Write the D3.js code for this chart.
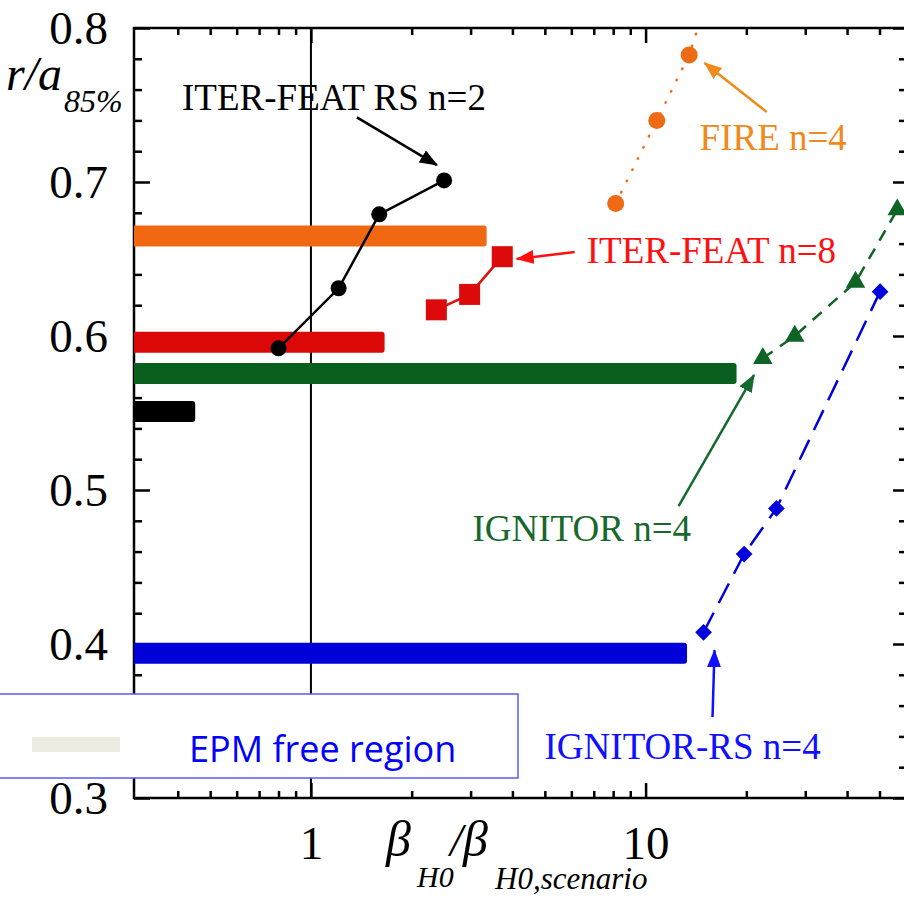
<html>
<head>
    <script src="https://d3js.org/d3.v7.min.js"></script>
    <style>
        body {
            margin: 0;
            background: #fff;
        }

        .serif {
            font-family: "Liberation Serif", "Times New Roman", serif;
        }

        .axis text {
            font-family: "Liberation Serif", "Times New Roman", serif;
            font-size: 47px;
            fill: #000;
        }

        .axis line {
            stroke: #000;
            stroke-width: 2.5;
        }

        .axis .domain {
            stroke: none;
        }
    </style>
</head>

<body>
    <svg width="904" height="900"></svg>
    <script>
        // horizontal bands (level, right end)
        const bandNames = ["FIRE", "ITER-FEAT", "IGNITOR", "ITER-FEAT RS", "IGNITOR-RS"];
        const bandLevel = [0.665, 0.596, 0.5756, 0.551, 0.394];
        const bandEnd = [3.35, 1.66, 18.7, 0.451, 13.3];

        // scenario curves
        const iterRsX = [0.80, 1.21, 1.60, 2.50];
        const iterRsY = [0.592, 0.631, 0.679, 0.701];
        const iterX = [2.37, 2.98, 3.73];
        const iterY = [0.617, 0.627, 0.6515];
        const fireX = [8.14, 10.8, 13.5, 16.4];
        const fireY = [0.686, 0.740, 0.7825, 0.84];
        const ignX = [22.4, 27.9, 42.4, 56.5];
        const ignY = [0.5855, 0.600, 0.635, 0.682];
        const ignRsX = [14.9, 19.7, 24.6, 50.2];
        const ignRsY = [0.4076, 0.4584, 0.488, 0.6288];

        // annotation texts with text anchor and arrow (data units)
        const noteText = ["ITER-FEAT RS n=2", "FIRE n=4", "ITER-FEAT n=8", "IGNITOR n=4", "IGNITOR-RS n=4"];
        const noteX = [0.412, 14.5, 6.67, 3.04, 4.99];
        const noteY = [0.7468, 0.7208, 0.6474, 0.4669, 0.3253];
        const arrowFrom = [[1.372, 0.742], [23.0, 0.7455], [6.14, 0.6545], [12.55, 0.4896], [15.85, 0.3526]];
        const arrowTo = [[2.38, 0.711], [15.0, 0.7773], [4.12, 0.650], [21.1, 0.5747], [16.07, 0.396]];

        // ticks
        const xMajorTicks = [1, 10];
        const xMinorTicks = [0.4, 0.5, 0.6, 0.7, 0.8, 0.9, 2, 3, 4, 5, 6, 7, 8, 9, 20, 30, 40, 50];
        const yMajorTicks = [0.3, 0.4, 0.5, 0.6, 0.7, 0.8];
        const yMinorTicks = d3.range(0.32, 0.8, 0.02).filter(v => Math.abs(v * 10 - Math.round(v * 10)) > 0.01);

        const pLeft = 134, pRight = 906, pTop = 28, pBottom = 798;

        const svg = d3.select("svg");

        const x = d3.scaleLog().domain([0.296, 60]).range([pLeft, pRight]);
        const y = d3.scaleLinear().domain([0.3, 0.8]).range([pBottom, pTop]);

        const defs = svg.append("defs");
        defs.append("clipPath").attr("id", "plot")
            .append("rect")
            .attr("x", pLeft).attr("y", pTop)
            .attr("width", pRight - pLeft).attr("height", pBottom - pTop);

        const noteColors = ["#000000", "#f08a1c", "#ff1010", "#17682c", "#1010ff"];
        noteColors.forEach((c, i) => {
            defs.append("marker")
                .attr("id", "arrow" + i)
                .attr("markerUnits", "userSpaceOnUse")
                .attr("markerWidth", 18).attr("markerHeight", 14)
                .attr("refX", 17).attr("refY", 7)
                .attr("orient", "auto")
                .append("path")
                .attr("d", "M0,0 L18,7 L0,14 z")
                .attr("fill", c);
        });

        // axes (ticks pointing inward on all four sides)
        const minorLen = 7, majorLen = 15;
        svg.append("g").attr("class", "axis")
            .attr("transform", `translate(0,${pBottom})`)
            .call(d3.axisBottom(x).tickValues(xMinorTicks).tickSize(-minorLen).tickFormat(""));
        svg.append("g").attr("class", "axis")
            .attr("transform", `translate(0,${pBottom})`)
            .call(d3.axisBottom(x).tickValues(xMajorTicks).tickSize(-majorLen).tickPadding(28).tickFormat(d3.format("d")));
        svg.append("g").attr("class", "axis")
            .attr("transform", `translate(0,${pTop})`)
            .call(d3.axisTop(x).tickValues(xMinorTicks).tickSize(-minorLen).tickFormat(""));
        svg.append("g").attr("class", "axis")
            .attr("transform", `translate(0,${pTop})`)
            .call(d3.axisTop(x).tickValues(xMajorTicks).tickSize(-majorLen).tickFormat(""));

        svg.append("g").attr("class", "axis")
            .attr("transform", `translate(${pLeft},0)`)
            .call(d3.axisLeft(y).tickValues(yMinorTicks).tickSize(-8).tickFormat(""));
        svg.append("g").attr("class", "axis")
            .attr("transform", `translate(${pLeft},0)`)
            .call(d3.axisLeft(y).tickValues(yMajorTicks).tickSize(-16).tickPadding(26).tickFormat(d3.format(".1f")))
            .selectAll("text").attr("dy", "0.34em");
        svg.append("g").attr("class", "axis")
            .attr("transform", `translate(${pRight},0)`)
            .call(d3.axisRight(y).tickValues(yMinorTicks).tickSize(-minorLen).tickFormat(""));
        svg.append("g").attr("class", "axis")
            .attr("transform", `translate(${pRight},0)`)
            .call(d3.axisRight(y).tickValues(yMajorTicks).tickSize(-13).tickFormat(""));

        // frame
        svg.append("rect")
            .attr("x", pLeft).attr("y", pTop)
            .attr("width", pRight - pLeft).attr("height", pBottom - pTop)
            .attr("fill", "none").attr("stroke", "#000").attr("stroke-width", 2.5);

        // reference line at 1
        svg.append("line")
            .attr("x1", x(1)).attr("x2", x(1))
            .attr("y1", pTop).attr("y2", pBottom)
            .attr("stroke", "#000").attr("stroke-width", 2);

        const plot = svg.append("g").attr("clip-path", "url(#plot)");

        // bands
        const bandColors = ["#f06812", "#dc0808", "#0a5e1e", "#000000", "#0000d8"];
        plot.selectAll("rect.band")
            .data(bandNames)
            .join("rect")
            .attr("class", "band")
            .attr("x", pLeft - 5)
            .attr("y", (d, i) => y(bandLevel[i]) - 10.5)
            .attr("width", (d, i) => x(bandEnd[i]) - pLeft + 5)
            .attr("height", 21)
            .attr("rx", 3)
            .attr("fill", (d, i) => bandColors[i]);

        const line = d3.line().x(d => x(d[0])).y(d => y(d[1]));
        const zip = (a, b) => a.map((v, i) => [v, b[i]]);

        // ITER-FEAT RS n=2
        const iterRs = zip(iterRsX, iterRsY);
        plot.append("path").attr("d", line(iterRs))
            .attr("fill", "none").attr("stroke", "#000").attr("stroke-width", 2.5);
        plot.selectAll("circle.rs").data(iterRs).join("circle")
            .attr("class", "rs")
            .attr("cx", d => x(d[0])).attr("cy", d => y(d[1])).attr("r", 8)
            .attr("fill", "#000");

        // ITER-FEAT n=8
        const iter = zip(iterX, iterY);
        plot.append("path").attr("d", line(iter))
            .attr("fill", "none").attr("stroke", "#e01010").attr("stroke-width", 2.5);
        plot.selectAll("rect.it").data(iter).join("rect")
            .attr("class", "it")
            .attr("x", d => x(d[0]) - 10.5).attr("y", d => y(d[1]) - 10.5)
            .attr("width", 21).attr("height", 21)
            .attr("fill", "#dc0a0a");

        // FIRE n=4
        const fire = zip(fireX, fireY);
        plot.append("path").attr("d", line(fire))
            .attr("fill", "none").attr("stroke", "#ee6a14").attr("stroke-width", 2.5)
            .attr("stroke-linecap", "round").attr("stroke-dasharray", "0.5,12");
        plot.selectAll("circle.fire").data(fire).join("circle")
            .attr("class", "fire")
            .attr("cx", d => x(d[0])).attr("cy", d => y(d[1])).attr("r", 8.5)
            .attr("fill", "#ee6a14");

        // IGNITOR n=4
        const ign = zip(ignX, ignY);
        plot.append("path").attr("d", line(ign))
            .attr("fill", "none").attr("stroke", "#0e6424").attr("stroke-width", 2.5)
            .attr("stroke-dasharray", "12,9");
        plot.selectAll("path.tri").data(ign).join("path")
            .attr("class", "tri")
            .attr("d", d3.symbol().type(d3.symbolTriangle).size(165))
            .attr("transform", d => `translate(${x(d[0])},${y(d[1])})`)
            .attr("fill", "#0e6424");

        // IGNITOR-RS n=4
        const ignRs = zip(ignRsX, ignRsY);
        plot.append("path").attr("d", line(ignRs))
            .attr("fill", "none").attr("stroke", "#0000dd").attr("stroke-width", 2.5)
            .attr("stroke-dasharray", "22,11");
        plot.selectAll("path.dia").data(ignRs).join("path")
            .attr("class", "dia")
            .attr("d", d3.symbol().type(d3.symbolSquare).size(140))
            .attr("transform", d => `translate(${x(d[0])},${y(d[1])}) rotate(45)`)
            .attr("fill", "#0000dd");

        // annotations
        svg.selectAll("line.arrow").data(noteText).join("line")
            .attr("class", "arrow")
            .attr("x1", (d, i) => x(arrowFrom[i][0])).attr("y1", (d, i) => y(arrowFrom[i][1]))
            .attr("x2", (d, i) => x(arrowTo[i][0])).attr("y2", (d, i) => y(arrowTo[i][1]))
            .attr("stroke", (d, i) => noteColors[i]).attr("stroke-width", 2.5)
            .attr("marker-end", (d, i) => `url(#arrow${i})`);
        svg.selectAll("text.note").data(noteText).join("text")
            .attr("class", "note serif")
            .attr("x", (d, i) => x(noteX[i])).attr("y", (d, i) => y(noteY[i]))
            .attr("font-size", 37)
            .attr("fill", (d, i) => noteColors[i])
            .text(d => d);

        // y title r/a_85%
        const yTitle = svg.append("text").attr("class", "serif").attr("font-style", "italic").attr("fill", "#000");
        yTitle.append("tspan").attr("x", 6).attr("y", 90).attr("font-size", 48).text("r/a");
        yTitle.append("tspan").attr("x", 64).attr("y", 112).attr("font-size", 32).text("85%");

        // x title beta_H0 / beta_H0,scenario
        const xTitle = svg.append("text").attr("class", "serif").attr("font-style", "italic").attr("fill", "#000");
        xTitle.append("tspan").attr("x", 386).attr("y", 856).attr("font-size", 50).text("β");
        xTitle.append("tspan").attr("x", 417).attr("y", 887).attr("font-size", 30).text("H0");
        xTitle.append("tspan").attr("x", 450).attr("y", 856).attr("font-size", 46).text("/");
        xTitle.append("tspan").attr("x", 463).attr("y", 856).attr("font-size", 50).text("β");
        xTitle.append("tspan").attr("x", 495).attr("y", 889).attr("font-size", 31).text("H0,scenario");

        // legend box
        svg.append("rect")
            .attr("x", -3).attr("y", 694)
            .attr("width", 521).attr("height", 84)
            .attr("fill", "#fff").attr("stroke", "#5a5aff").attr("stroke-width", 1.5);
        svg.append("rect")
            .attr("x", 32).attr("y", 737)
            .attr("width", 88).attr("height", 15)
            .attr("fill", "#eeece1");
        svg.append("text")
            .attr("x", 189).attr("y", 762)
            .attr("font-family", "'Open Sans', 'Noto Sans', sans-serif")
            .attr("font-size", 36)
            .attr("fill", "#0000ff")
            .text("EPM free region");
    </script>
</body>
</html>
